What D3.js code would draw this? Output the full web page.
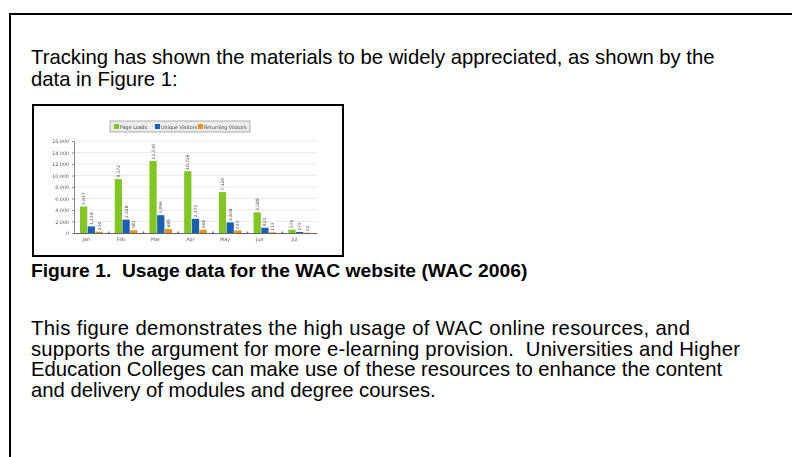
<!DOCTYPE html>
<html>
<head>
<meta charset="utf-8">
<script src="https://cdn.jsdelivr.net/npm/d3@7"></script>
<style>
  html, body { margin: 0; padding: 0; background: #fff; }
  svg { display: block; font-family: Arial, "Liberation Sans", sans-serif; }
</style>
</head>
<body>
<svg id="page" width="792" height="457"></svg>
<script>
// data
const months = ["Jan", "Feb", "Mar", "Apr", "May", "Jun", "Jul"]
const series = ["Page Loads", "Unique Visitors", "Returning Visitors"]
const pageLoads = [4617, 9372, 12540, 10726, 7120, 3588, 576]
const uniqueVisitors = [1148, 2328, 3096, 2472, 1838, 921, 175]
const returningVisitors = [230, 483, 689, 568, 444, 113, 51]
const yTicks = [0, 2000, 4000, 6000, 8000, 10000, 12000, 14000, 16000]

const introLines = [
    "Tracking has shown the materials to be widely appreciated, as shown by the",
    "data in Figure 1:"
]
const captionText = "Figure 1.  Usage data for the WAC website (WAC 2006)"
const bodyLines = [
    "This figure demonstrates the high usage of WAC online resources, and",
    "supports the argument for more e-learning provision.  Universities and Higher",
    "Education Colleges can make use of these resources to enhance the content",
    "and delivery of modules and degree courses."
]
// the first two body lines are set wider in the original (word spacing)
const bodyLineWidths = [659, 709, null, null]

const colors = ["#83c425", "#1d5eae", "#e8931f"]

const svg = d3.select("#page")

// page frame (top and left edges)
svg.append("path")
    .attr("d", "M10,457 L10,14 L792,14")
    .attr("fill", "none")
    .attr("stroke", "#000")
    .attr("stroke-width", 2)

const textX = 31

svg.selectAll(".intro")
    .data(introLines)
    .enter()
    .append("text")
    .attr("class", "intro")
    .attr("x", textX)
    .attr("y", (d, i) => 64 + i * 22)
    .attr("font-size", 20.3)
    .attr("fill", "#000")
    .style("white-space", "pre")
    .text(d => d)

svg.append("text")
    .attr("x", textX)
    .attr("y", 277)
    .attr("font-size", 19.25)
    .attr("font-weight", "bold")
    .style("white-space", "pre")
    .text(captionText)

const body = svg.selectAll(".body")
    .data(bodyLines)
    .enter()
    .append("text")
    .attr("class", "body")
    .attr("x", textX)
    .attr("y", (d, i) => 335 + i * 20.5)
    .attr("font-size", 20.3)
    .style("white-space", "pre")
    .text(d => d)
body.filter((d, i) => bodyLineWidths[i])
    .attr("textLength", (d, i) => bodyLineWidths[bodyLines.indexOf(d)])
    .attr("lengthAdjust", "spacing")

// ---- the embedded chart ----
const defs = svg.append("defs")
defs.append("filter").attr("id", "soft")
    .append("feGaussianBlur").attr("stdDeviation", 0.45)

// chart frame
svg.append("rect")
    .attr("x", 33).attr("y", 105)
    .attr("width", 310).attr("height", 151)
    .attr("fill", "#fff")
    .attr("stroke", "#000")
    .attr("stroke-width", 2)

const chart = svg.append("g").attr("filter", "url(#soft)")

const plotLeft = 74, plotRight = 317, plotTop = 141, plotBottom = 233

const x = d3.scaleBand().domain(months).range([plotLeft, plotRight]).paddingInner(0.32).paddingOuter(0.16)
const xs = d3.scaleBand().domain(series).range([0, x.bandwidth()]).padding(0.06)
const y = d3.scaleLinear().domain([0, 16000]).range([plotBottom, plotTop])

// gridlines
chart.selectAll(".grid")
    .data(yTicks.slice(1))
    .enter()
    .append("line")
    .attr("x1", plotLeft).attr("x2", plotRight)
    .attr("y1", d => y(d)).attr("y2", d => y(d))
    .attr("stroke", "#e4e4e4")
    .attr("stroke-width", 0.8)

// y axis
const yAxis = chart.append("g")
    .attr("transform", "translate(" + plotLeft + ",0)")
    .call(d3.axisLeft(y).tickValues(yTicks).tickFormat(d3.format(",")).tickSize(2).tickPadding(3))
yAxis.select(".domain").attr("stroke", "#888")
yAxis.selectAll(".tick line").attr("stroke", "#888")
yAxis.selectAll("text").attr("font-size", 4.8).attr("fill", "#555").attr("font-family", "Verdana, 'DejaVu Sans', sans-serif")

// x axis
const xAxis = chart.append("g")
    .attr("transform", "translate(0," + plotBottom + ")")
    .call(d3.axisBottom(x).tickSize(0).tickPadding(5))
xAxis.select(".domain").attr("stroke", "#666")
xAxis.selectAll("text").attr("font-size", 4.8).attr("fill", "#555").attr("font-family", "Verdana, 'DejaVu Sans', sans-serif")
    .attr("dx", -x.bandwidth() * 0.22)

// small separators between month groups
chart.selectAll(".sep")
    .data(months.slice(1))
    .enter()
    .append("rect")
    .attr("x", d => x(d) - x.step() * 0.16 - 0.8)
    .attr("y", plotBottom - 1.5)
    .attr("width", 1.6).attr("height", 1.5)
    .attr("fill", "#777")

const rows = months.map((m, i) => ({
    month: m,
    values: [pageLoads[i], uniqueVisitors[i], returningVisitors[i]]
}))

const groups = chart.selectAll(".month")
    .data(rows)
    .enter()
    .append("g")
    .attr("transform", d => "translate(" + x(d.month) + ",0)")

groups.selectAll("rect")
    .data(d => d.values.map((v, j) => ({ key: series[j], value: v, j: j })))
    .enter()
    .append("rect")
    .attr("x", d => xs(d.key))
    .attr("y", d => y(d.value))
    .attr("width", xs.bandwidth())
    .attr("height", d => plotBottom - y(d.value))
    .attr("fill", d => colors[d.j])

// rotated value labels above bars
groups.selectAll(".val")
    .data(d => d.values.map((v, j) => ({ key: series[j], value: v, j: j })))
    .enter()
    .append("text")
    .attr("class", "val")
    .attr("transform", d => "translate(" + (xs(d.key) + xs.bandwidth() / 2 + 1.5) + "," + (y(d.value) - 1.5) + ") rotate(-90)")
    .attr("font-size", 4.4)
    .attr("fill", "#555")
    .attr("font-family", "Verdana, 'DejaVu Sans', sans-serif")
    .text(d => d3.format(",")(d.value))

// legend
const legend = chart.append("g").attr("transform", "translate(110,121)")
legend.append("rect")
    .attr("width", 140).attr("height", 11)
    .attr("fill", "#ececec")
    .attr("stroke", "#9a9a9a")
    .attr("stroke-width", 0.8)

const legendX = [4, 45, 88]
const legendItems = legend.selectAll(".legend-item")
    .data(series)
    .enter()
    .append("g")
    .attr("transform", (d, i) => "translate(" + legendX[i] + ",3)")

legendItems.append("rect")
    .attr("width", 5).attr("height", 5)
    .attr("fill", (d, i) => colors[i])
legendItems.append("text")
    .attr("x", 6)
    .attr("y", 4.6)
    .attr("font-size", 4.8)
    .attr("fill", "#444")
    .attr("font-family", "Verdana, 'DejaVu Sans', sans-serif")
    .text(d => d)
</script>
</body>
</html>
